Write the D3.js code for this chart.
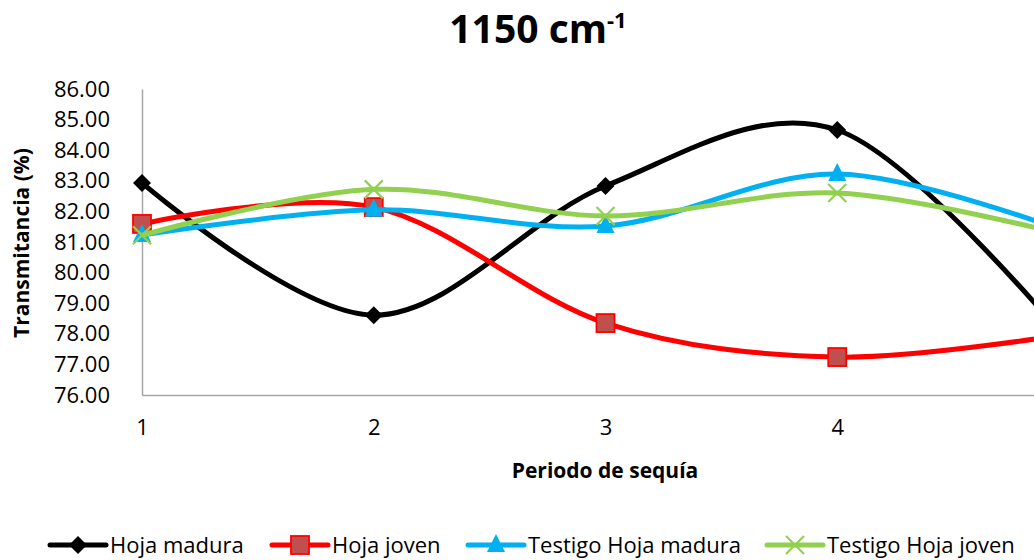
<!DOCTYPE html>
<html><head><meta charset="utf-8">
<script src="https://cdn.jsdelivr.net/npm/d3@7"></script>
<style>body{margin:0;background:#fff}svg{display:block;font-family:"Open Sans",sans-serif}</style>
</head><body>
<svg id="c" width="1034" height="560"></svg>
<script>
const periods = [1, 2, 3, 4, 5];
const xTickValues = [1, 2, 3, 4];
const xTickLabels = ["1", "2", "3", "4"];
const yTicks = [76, 77, 78, 79, 80, 81, 82, 83, 84, 85, 86];
const seriesNames = ["Hoja madura", "Hoja joven", "Testigo Hoja madura", "Testigo Hoja joven"];
const hojaMadura = [82.93, 78.61, 82.83, 84.66, 77.7];
const hojaJoven = [81.59, 82.14, 78.35, 77.24, 78.0];
const testigoMadura = [81.23, 82.05, 81.52, 83.22, 81.3];
const testigoJoven = [81.22, 82.72, 81.85, 82.60, 81.2];
const colors = ["#000000", "#FF0000", "#00B0F0", "#92D050"];

const svg = d3.select("#c");
const x = d3.scaleLinear().domain([1, 5]).range([142, 1069]);
const y = d3.scaleLinear().domain([76, 86]).range([395, 89]);

// title
const t = svg.append("text").attr("x", 538).attr("y", 43).attr("text-anchor", "middle")
  .attr("font-weight", "bold").attr("font-size", 39).attr("fill", "#000");
t.append("tspan").text("1150 cm");
t.append("tspan").attr("font-size", 22).attr("dy", -15).text("-1");

// y axis
const ya = svg.append("g").attr("transform", "translate(142,0)")
  .call(d3.axisLeft(y).tickValues(yTicks).tickSize(0).tickPadding(32).tickFormat(d => d.toFixed(2)));
ya.select(".domain").attr("stroke", "#A6A6A6").attr("stroke-width", 1.5);
ya.selectAll("text").attr("font-size", 22).attr("fill", "#000").attr("font-family", "Open Sans");

// x axis
const xa = svg.append("g").attr("transform", "translate(0,395)")
  .call(d3.axisBottom(x).tickValues(xTickValues).tickSize(0).tickPadding(24).tickFormat((d, i) => xTickLabels[i]));
xa.select(".domain").attr("stroke", "#A6A6A6").attr("stroke-width", 1.5);
xa.selectAll("text").attr("font-size", 22).attr("fill", "#000").attr("font-family", "Open Sans");

// axis titles
svg.append("text").attr("x", 605).attr("y", 478).attr("text-anchor", "middle")
  .attr("font-weight", "bold").attr("font-size", 21).text("Periodo de sequía");
svg.append("text").attr("transform", "translate(29,243) rotate(-90)").attr("text-anchor", "middle")
  .attr("font-weight", "bold").attr("font-size", 21).text("Transmitancia (%)");

const data = [hojaMadura, hojaJoven, testigoMadura, testigoJoven];
const line = d3.line().x((d, i) => x(periods[i])).y(d => y(d)).curve(d3.curveCatmullRom.alpha(0));

function marker(g, type, cx, cy) {
  if (type === 0) {
    g.append("path").attr("d", `M${cx},${cy-9}L${cx+9},${cy}L${cx},${cy+9}L${cx-9},${cy}Z`).attr("fill", "#000");
  } else if (type === 1) {
    g.append("rect").attr("x", cx-9).attr("y", cy-9).attr("width", 18).attr("height", 18)
      .attr("fill", "#C0504D").attr("stroke", "#FF0000").attr("stroke-width", 1.8);
  } else if (type === 2) {
    g.append("path").attr("d", `M${cx},${cy-11}L${cx+9},${cy+7}L${cx-9},${cy+7}Z`).attr("fill", "#00B0F0");
  } else {
    g.append("path").attr("d", `M${cx-9},${cy-9}L${cx+9},${cy+9}M${cx+9},${cy-9}L${cx-9},${cy+9}`)
      .attr("stroke", "#92D050").attr("stroke-width", 2.2).attr("fill", "none");
  }
}

data.forEach((s, k) => {
  const g = svg.append("g");
  g.append("path").attr("d", line(s)).attr("fill", "none").attr("stroke", colors[k]).attr("stroke-width", 5);
  s.forEach((v, i) => marker(g, k, x(periods[i]), y(v)));
});

// legend
const legX = [50, 272, 468, 767];
seriesNames.forEach((n, k) => {
  const g = svg.append("g");
  g.append("line").attr("x1", legX[k]).attr("x2", legX[k] + 56).attr("y1", 545).attr("y2", 545)
    .attr("stroke", colors[k]).attr("stroke-width", 5).attr("stroke-linecap", "round");
  marker(g, k, legX[k] + 28, 545);
  g.append("text").attr("x", legX[k] + 60).attr("y", 553).attr("font-size", 22).text(n);
});
</script>
</body></html>
